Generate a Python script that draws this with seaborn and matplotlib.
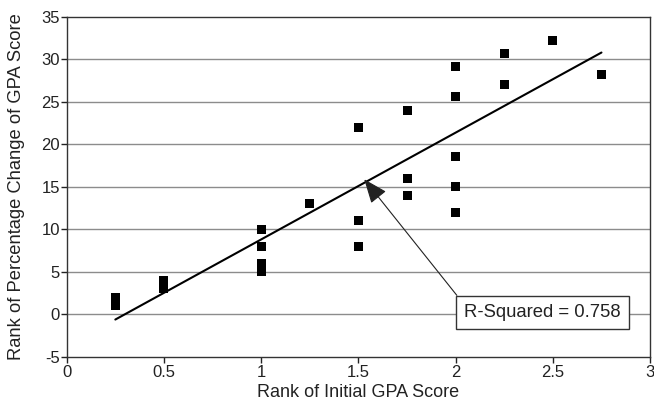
import matplotlib
matplotlib.use("Agg")
import matplotlib.pyplot as plt
import seaborn as sns
import pandas as pd

# Data
initial_rank = [0.25, 0.25, 0.5, 0.5, 1, 1, 1, 1, 1.25, 1.5, 1.5, 1.5,
                1.75, 1.75, 1.75, 2, 2, 2, 2, 2, 2.25, 2.25, 2.5, 2.75]
change_rank = [1, 2, 3, 4, 10, 8, 6, 5, 13, 22, 11, 8,
               24, 16, 14, 29.2, 25.6, 18.6, 15, 12, 30.7, 27.1, 32.2, 28.2]
x_ticks = [0, 0.5, 1, 1.5, 2, 2.5, 3]
x_tick_labels = ["0", "0.5", "1", "1.5", "2", "2.5", "3"]
y_ticks = [-5, 0, 5, 10, 15, 20, 25, 30, 35]
r_squared_label = "R-Squared = 0.758"

df = pd.DataFrame({"x": initial_rank, "y": change_rank})

sns.set_style("white")
plt.rcParams["font.family"] = ["Liberation Sans", "DejaVu Sans"]
plt.rcParams["axes.unicode_minus"] = False

fig = plt.figure(figsize=(6.54, 4.05), dpi=100)
ax = fig.add_axes([0.102, 0.119, 0.892, 0.839])

ax.set_xlim(0, 3)
ax.set_ylim(-5, 35)
for yv in y_ticks[1:-1]:
    ax.axhline(yv, color="#8c8c8c", lw=1.0, zorder=0)

sns.scatterplot(data=df, x="x", y="y", marker="s", s=42, color="black",
                edgecolor="none", ax=ax, zorder=3, legend=False)
sns.regplot(data=df, x="x", y="y", scatter=False, ci=None, truncate=True,
            color="black", line_kws={"lw": 1.5, "zorder": 4}, ax=ax)

ax.annotate(r_squared_label, xy=(1.53, 15.9), xytext=(2.445, 0.2),
            ha="center", va="center", fontsize=13.3, color="#222222",
            bbox=dict(boxstyle="square,pad=0.45", fc="white", ec="#333333", lw=1),
            arrowprops=dict(arrowstyle="-|>,head_length=1.0,head_width=0.4",
                            color="#222222", lw=0.8, relpos=(0, 1),
                            shrinkA=0, shrinkB=0, mutation_scale=15),
            zorder=5)

ax.set_xticks(x_ticks)
ax.set_xticklabels(x_tick_labels)
ax.set_yticks(y_ticks)
ax.tick_params(axis="both", direction="out", length=4, width=1,
               labelsize=12, colors="#222222", left=True, bottom=True, pad=2)
ax.tick_params(axis="y", pad=1)
for s in ax.spines.values():
    s.set_color("#333333")
    s.set_linewidth(1.0)

ax.set_xlabel("Rank of Initial GPA Score", fontsize=13, color="#222222", labelpad=3)
ax.set_ylabel("Rank of Percentage Change of GPA Score", fontsize=13.2,
              color="#222222")
ax.yaxis.set_label_coords(-0.071, 0.5)

fig.savefig("out.png", dpi=100)
